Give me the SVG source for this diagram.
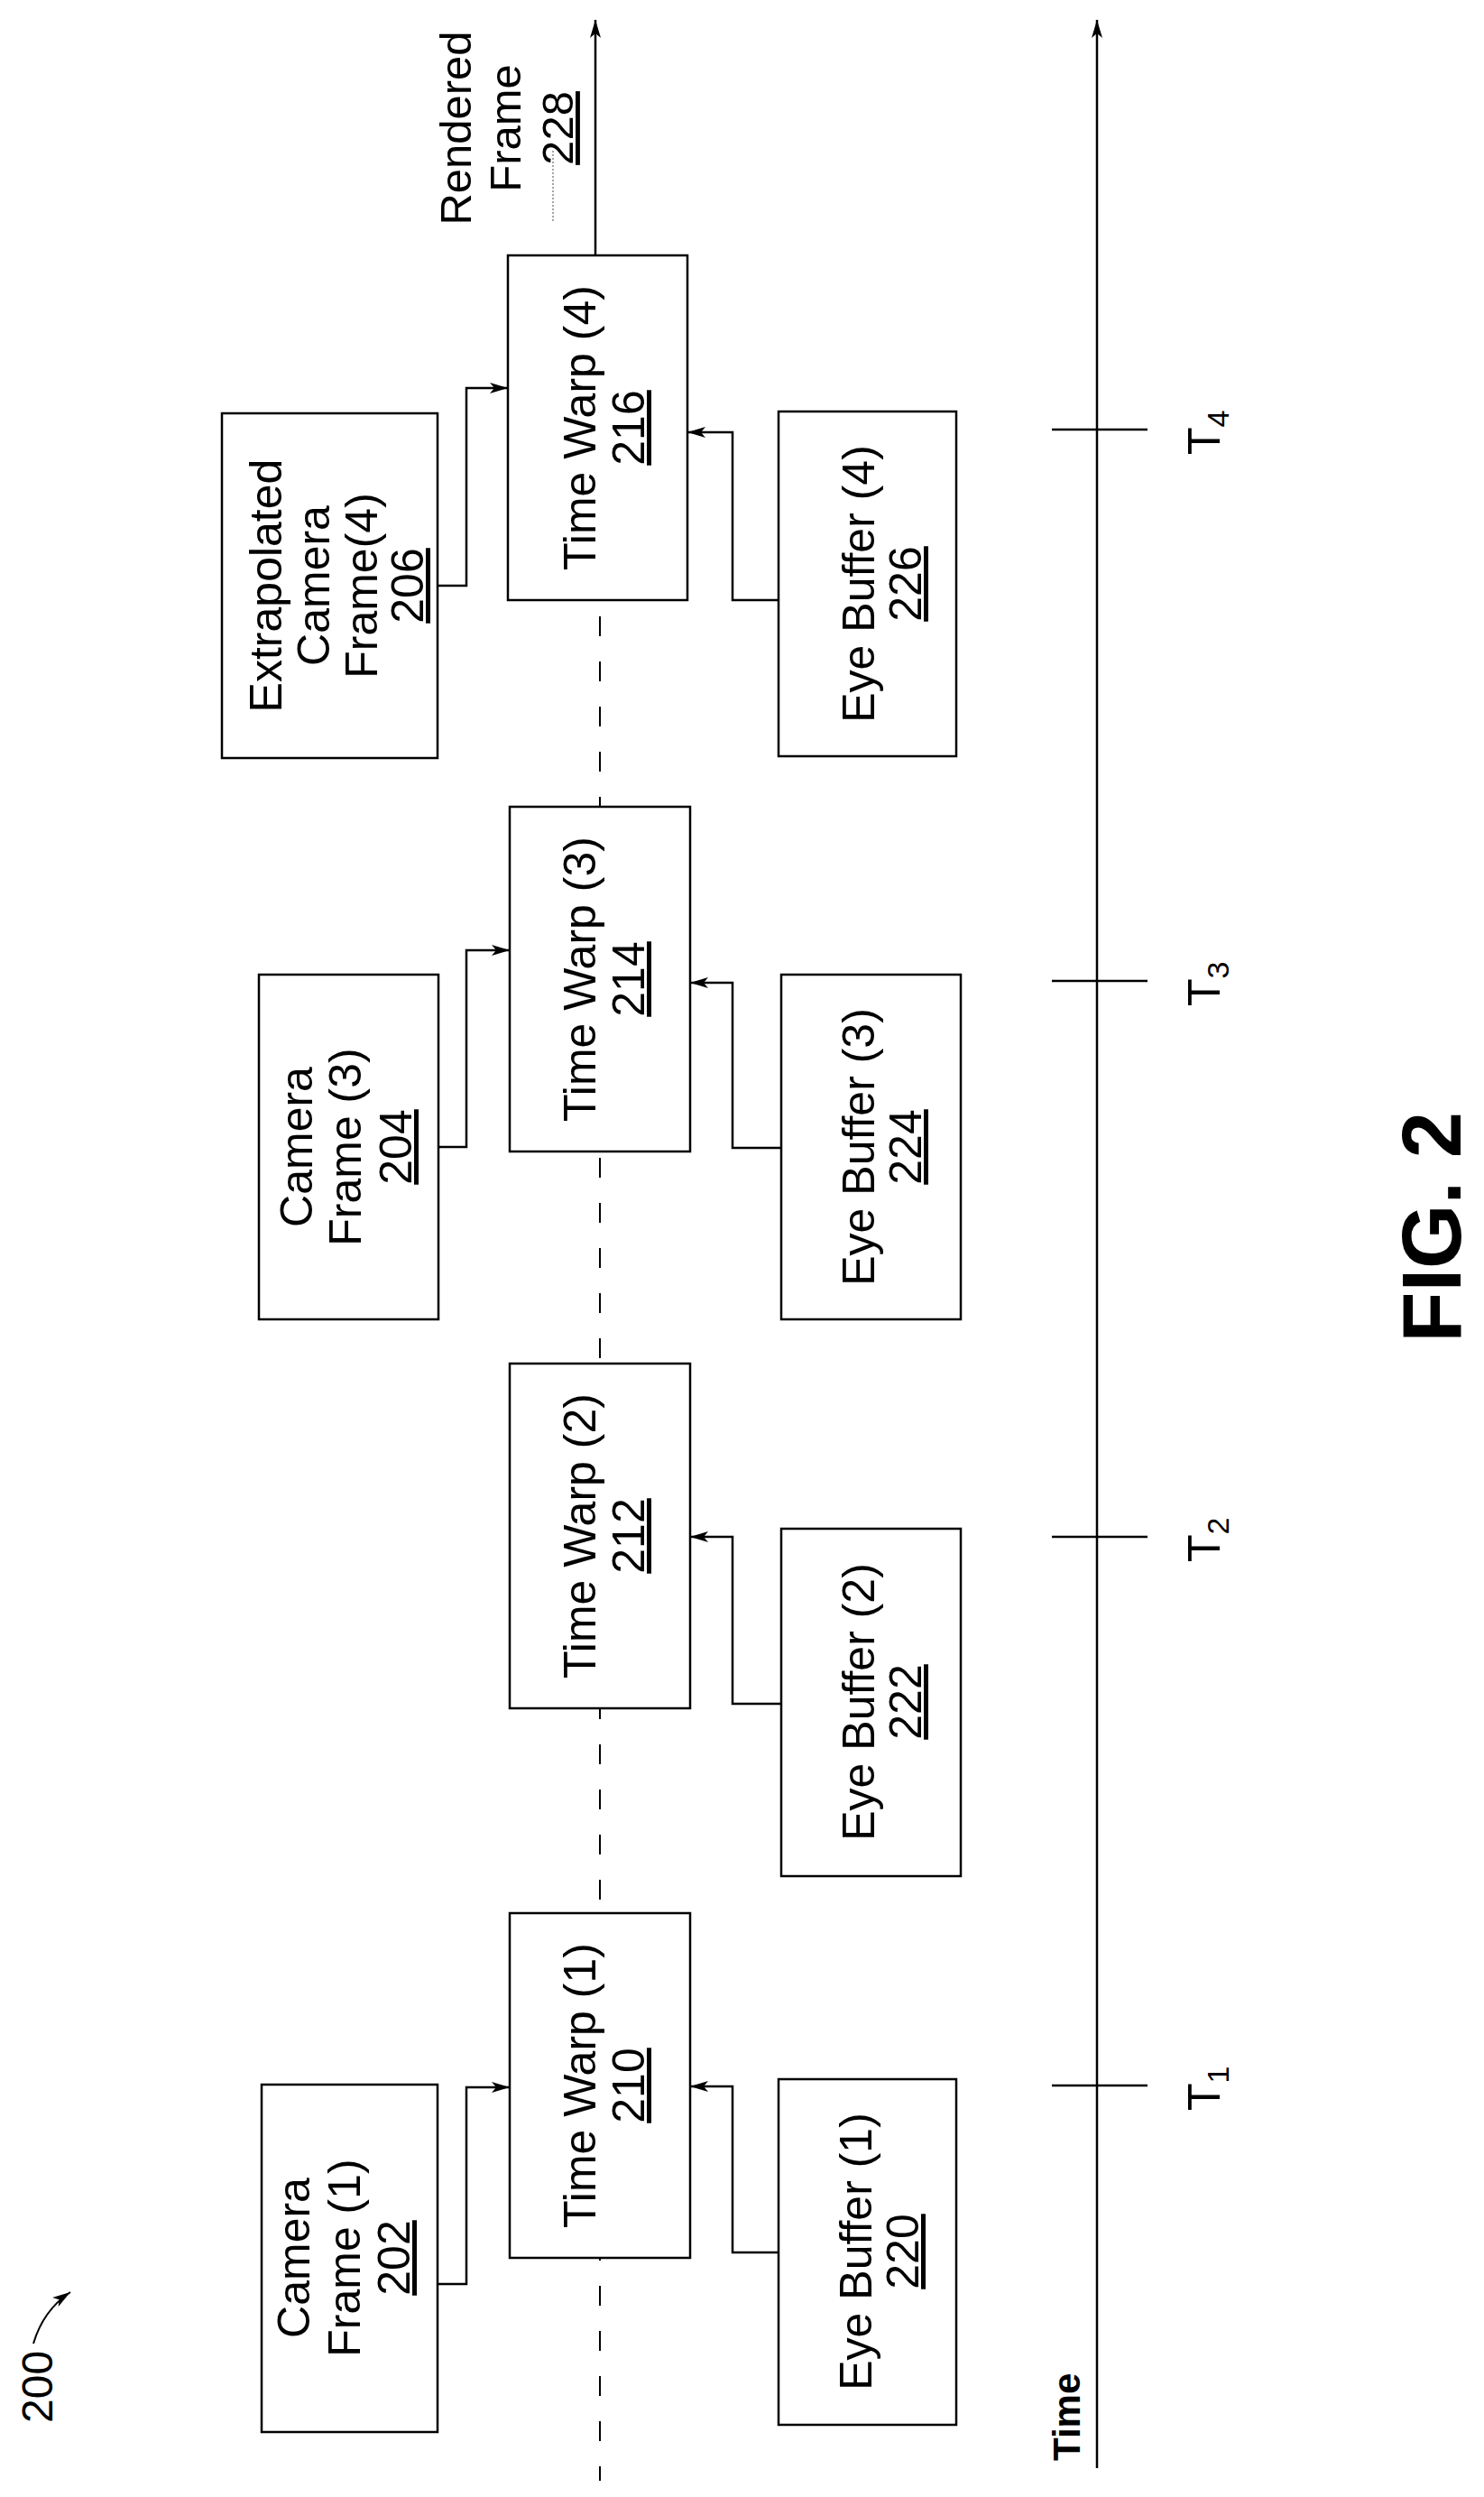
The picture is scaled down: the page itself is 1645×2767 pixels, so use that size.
<svg xmlns="http://www.w3.org/2000/svg" width="1645" height="2767" viewBox="0 0 1645 2767">
<style>
.b{fill:#fff;stroke:#000;stroke-width:2.5}
.t{font-family:"Liberation Sans",Arial,sans-serif;font-size:50px;fill:#000}
.u{text-decoration:underline}
.c{fill:none;stroke:#000;stroke-width:2.5}
</style>
<defs>
<marker id="a" viewBox="0 0 20 12" refX="20" refY="6" markerWidth="20" markerHeight="12" markerUnits="userSpaceOnUse" orient="auto">
<path d="M0 0 L20 6 L0 12 L5 6 Z" fill="#000"/>
</marker>
</defs>
<rect width="1645" height="2767" fill="#fff"/>
<line x1="665" y1="283" x2="665" y2="2749" stroke="#000" stroke-width="2" stroke-dasharray="22 28"/>
<g id="connectors">
<path class="c" d="M660 283 V22" marker-end="url(#a)"/>
<path class="c" d="M1216 2735 V22" marker-end="url(#a)"/>
<path class="c" d="M1166 476 H1272 M1166 1087 H1272 M1166 1703 H1272 M1166 2311 H1272"/>
<path class="c" d="M485 649 H517 V430 H563" marker-end="url(#a)"/>
<path class="c" d="M863 665 H812 V479 H762" marker-end="url(#a)"/>
<path class="c" d="M486 1271 H517 V1053 H565" marker-end="url(#a)"/>
<path class="c" d="M866 1272 H812 V1089 H765" marker-end="url(#a)"/>
<path class="c" d="M866 1888 H812 V1703 H765" marker-end="url(#a)"/>
<path class="c" d="M485 2531 H517 V2313 H565" marker-end="url(#a)"/>
<path class="c" d="M863 2496 H812 V2312 H765" marker-end="url(#a)"/>
<path d="M37 2597 Q48 2560 78 2540" fill="none" stroke="#000" stroke-width="2" marker-end="url(#a)"/>
<line x1="613" y1="167" x2="613" y2="247" stroke="#888" stroke-width="1.5" stroke-dasharray="2 2"/>
</g>
<g id="n216"><rect class="b" x="563" y="283" width="199" height="382"/>
<text class="t" transform="translate(665 474) rotate(-90)" text-anchor="middle"><tspan x="0" y="-5">Time Warp (4)</tspan><tspan x="0" y="49" class="u">216</tspan></text></g>
<g id="n214"><rect class="b" x="565" y="894" width="200" height="382"/>
<text class="t" transform="translate(665 1085) rotate(-90)" text-anchor="middle"><tspan x="0" y="-5">Time Warp (3)</tspan><tspan x="0" y="49" class="u">214</tspan></text></g>
<g id="n212"><rect class="b" x="565" y="1511" width="200" height="382"/>
<text class="t" transform="translate(665 1702) rotate(-90)" text-anchor="middle"><tspan x="0" y="-5">Time Warp (2)</tspan><tspan x="0" y="49" class="u">212</tspan></text></g>
<g id="n210"><rect class="b" x="565" y="2120" width="200" height="382"/>
<text class="t" transform="translate(665 2311) rotate(-90)" text-anchor="middle"><tspan x="0" y="-5">Time Warp (1)</tspan><tspan x="0" y="49" class="u">210</tspan></text></g>
<g id="n206"><rect class="b" x="246" y="458" width="239" height="382"/>
<text class="t" transform="translate(365 649) rotate(-90)" text-anchor="middle"><tspan x="0" y="-53">Extrapolated</tspan><tspan x="0" y="0">Camera</tspan><tspan x="0" y="53">Frame(4)</tspan><tspan x="0" y="104" class="u">206</tspan></text></g>
<g id="n204"><rect class="b" x="287" y="1080" width="199" height="382"/>
<text class="t" transform="translate(386 1271) rotate(-90)" text-anchor="middle"><tspan x="0" y="-40">Camera</tspan><tspan x="0" y="14">Frame (3)</tspan><tspan x="0" y="70" class="u">204</tspan></text></g>
<g id="n202"><rect class="b" x="290" y="2310" width="195" height="385"/>
<text class="t" transform="translate(387 2502) rotate(-90)" text-anchor="middle"><tspan x="0" y="-44">Camera</tspan><tspan x="0" y="12">Frame (1)</tspan><tspan x="0" y="67" class="u">202</tspan></text></g>
<g id="n226"><rect class="b" x="863" y="456" width="197" height="382"/>
<text class="t" transform="translate(965 647) rotate(-90)" text-anchor="middle"><tspan x="0" y="4">Eye Buffer (4)</tspan><tspan x="0" y="56" class="u">226</tspan></text></g>
<g id="n224"><rect class="b" x="866" y="1080" width="199" height="382"/>
<text class="t" transform="translate(965 1271) rotate(-90)" text-anchor="middle"><tspan x="0" y="4">Eye Buffer (3)</tspan><tspan x="0" y="56" class="u">224</tspan></text></g>
<g id="n222"><rect class="b" x="866" y="1694" width="199" height="385"/>
<text class="t" transform="translate(965 1886) rotate(-90)" text-anchor="middle"><tspan x="0" y="4">Eye Buffer (2)</tspan><tspan x="0" y="56" class="u">222</tspan></text></g>
<g id="n220"><rect class="b" x="863" y="2304" width="197" height="383"/>
<text class="t" transform="translate(962 2495) rotate(-90)" text-anchor="middle"><tspan x="0" y="4">Eye Buffer (1)</tspan><tspan x="0" y="56" class="u">220</tspan></text></g>
<g id="n228">
<text class="t" style="font-size:49px" transform="translate(0 142) rotate(-90)" text-anchor="middle"><tspan x="0" y="522">Rendered</tspan><tspan x="0" y="577">Frame</tspan><tspan x="0" y="635" class="u">228</tspan></text></g>
<g id="labels">
<text class="t" transform="translate(1352 504) rotate(-90)">T<tspan font-size="34" dy="10">4</tspan></text>
<text class="t" transform="translate(1352 1115) rotate(-90)">T<tspan font-size="34" dy="10">3</tspan></text>
<text class="t" transform="translate(1352 1731) rotate(-90)">T<tspan font-size="34" dy="10">2</tspan></text>
<text class="t" transform="translate(1352 2339) rotate(-90)">T<tspan font-size="34" dy="10">1</tspan></text>
<text class="t" style="font-size:42px;font-weight:bold" transform="translate(1197 2727) rotate(-90)">Time</text>
<text class="t" style="font-size:48px" transform="translate(58 2685) rotate(-90)">200</text>
<text class="t" style="font-size:92px;font-weight:bold" text-anchor="middle" transform="translate(1619 1360) rotate(-90)">FIG. 2</text>
</g>
</svg>
